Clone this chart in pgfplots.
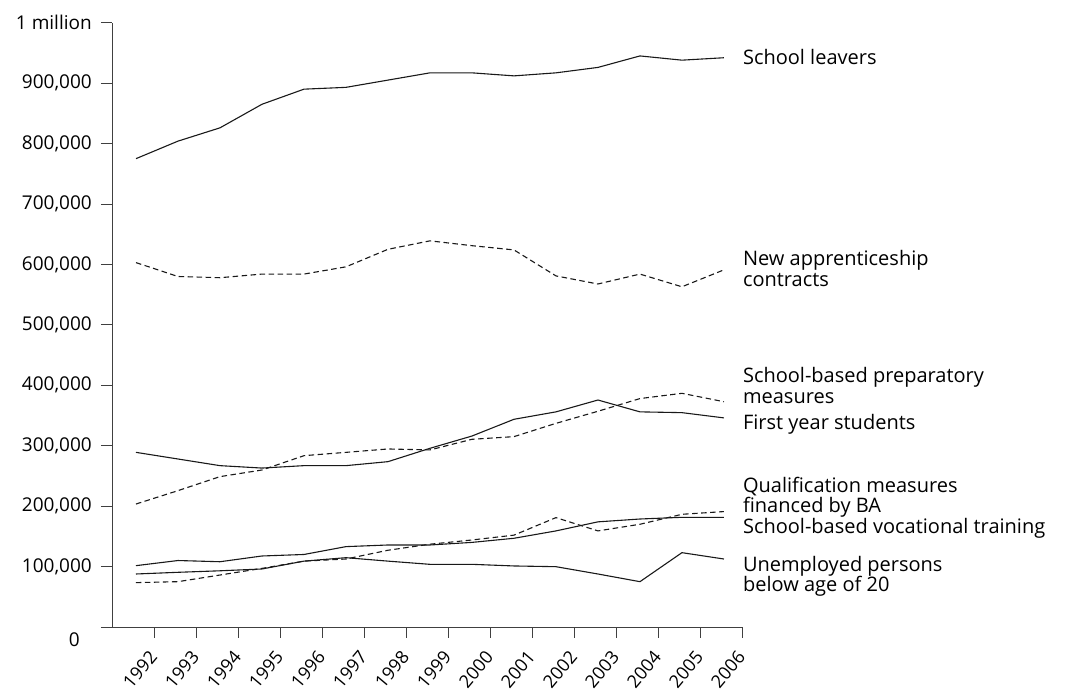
\documentclass[border=0pt]{standalone}
\usepackage{pgfplots}
\usepackage{pgfplotstable}
\pgfplotsset{compat=1.18}
\usepackage{fontspec}
\setmainfont{Open Sans}

\pgfplotstableread{
x  sl   na   sp     fy     qm     sv     ue
0  775  603  203.5  289    73.4   101.5  87.7
1  804  580  225.6  278    75     110    90.5
2  826  578  248.8  267    86     108    93
3  865  584  259.8  263    97     117.5  96
4  890  584  283.5  267    109    120    109
5  893  596  289    267    112.5  133    114.7
6  905  625  294.6  273.6  127    135.7  109
7  917  639  293    295.7  137    135.7  103.7
8  917  631  310.6  316    144    140    103.7
9  912  624  315    343.7  152    146.8  101
10 917  581  337    356    181    159    99.8
11 926  567.6 357   375.6  159    174    87.7
12 945  584  378    356    170    178.7  75
13 938  563  386.7  354.7  186.5  181.5  123
14 942  591  372.8  346    191    181.5  112.5
}\datatable

\begin{document}
\begin{tikzpicture}[x=1pt,y=1pt]
\begin{axis}[
  at={(0,0)}, anchor=south west,
  scale only axis, width=630pt, height=604.3pt,
  xmin=-0.571, xmax=14.43, ymin=0, ymax=1000,
  axis x line=bottom, axis y line=left,
  axis line style={-, line width=0.9pt, color=black!75},
  xtick={0.43,1.43,2.43,3.43,4.43,5.43,6.43,7.43,8.43,9.43,10.43,11.43,12.43,13.43,14.43},
  xticklabels={1992,1993,1994,1995,1996,1997,1998,1999,2000,2001,2002,2003,2004,2005,2006},
  ytick={0,100,200,300,400,500,600,700,800,900,1000},
  yticklabels={{\raisebox{-20pt}[0pt][0pt]{0\hspace{12pt}}},{100,000},{200,000},{300,000},{400,000},{500,000},{600,000},{700,000},{800,000},{900,000},{1 million}},
  tick align=outside, major tick length=11pt,
  tick style={line width=0.9pt, color=black!75},
  xticklabel shift=15pt,
  xticklabel style={rotate=50, anchor=east, inner sep=1pt, font=\fontsize{18}{20}\selectfont},
  yticklabel style={inner sep=1pt, xshift=-8pt},
  clip=false,
  /pgf/number format/assume math mode=true,
  font=\fontsize{19}{21}\selectfont,
  every axis plot/.append style={line width=1.1pt, color=black!90},
]
\addplot[no marks] table[x=x,y=sl]{\datatable};
\addplot[no marks, dash pattern=on 5.5pt off 3.5pt] table[x=x,y=na]{\datatable};
\addplot[no marks, dash pattern=on 5.5pt off 3.5pt] table[x=x,y=sp]{\datatable};
\addplot[no marks] table[x=x,y=fy]{\datatable};
\addplot[no marks, dash pattern=on 5.5pt off 3.5pt] table[x=x,y=qm]{\datatable};
\addplot[no marks] table[x=x,y=sv]{\datatable};
\addplot[no marks] table[x=x,y=ue]{\datatable};

\begin{scope}[every node/.style={anchor=west, align=left, inner sep=0pt, font=\fontsize{20}{20.5}\selectfont}]
\node at (axis cs:14.45,943.7) {School leavers};
\node at (axis cs:14.45,593.5) {New apprenticeship\\contracts};
\node at (axis cs:14.45,400) {School-based preparatory\\measures};
\node at (axis cs:14.45,336) {First year students};
\node at (axis cs:14.45,215) {Qualification measures\\financed by BA};
\node at (axis cs:14.45,164) {School-based vocational training};
\node at (axis cs:14.45,83.6) {Unemployed persons\\below age of 20};
\end{scope}
\end{axis}
\pgfresetboundingbox
\useasboundingbox (-112,-68) rectangle (954,627);
\end{tikzpicture}
\end{document}
